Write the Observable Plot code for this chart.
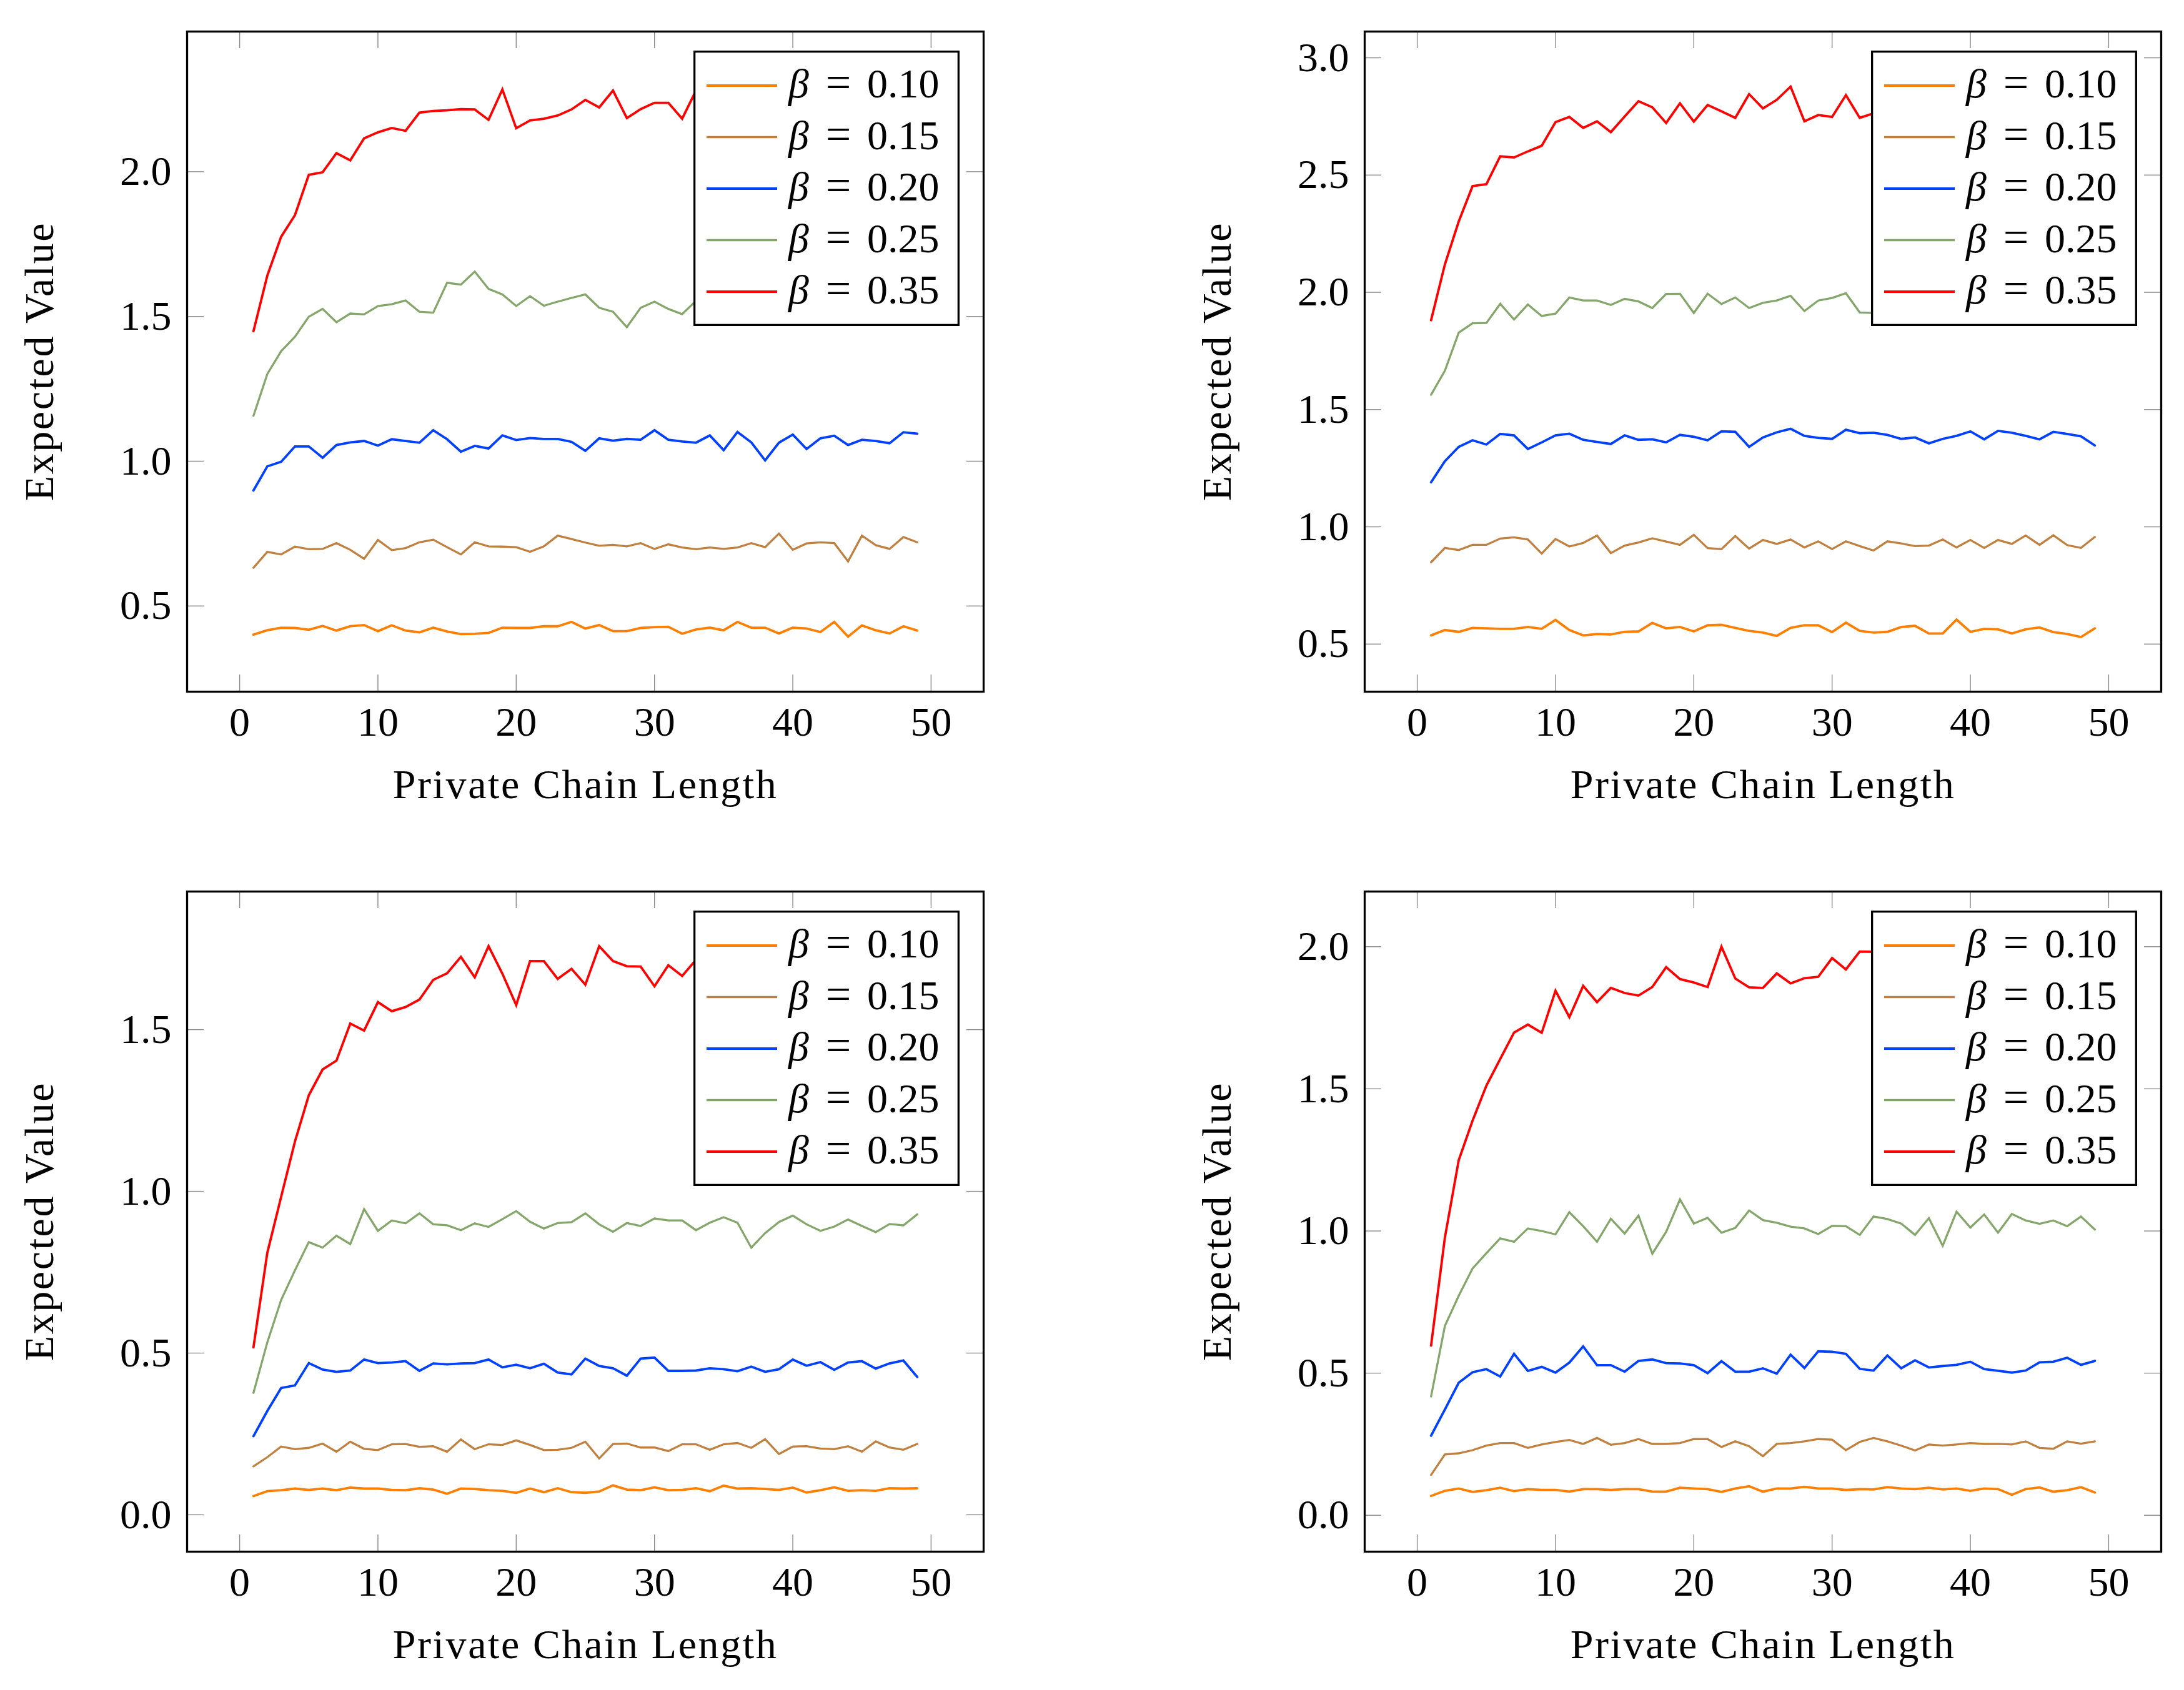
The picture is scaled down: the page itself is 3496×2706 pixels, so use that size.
<!DOCTYPE html>
<html><head><meta charset="utf-8">
<script src="https://cdn.jsdelivr.net/npm/d3@7"></script>
<script src="https://cdn.jsdelivr.net/npm/@observablehq/plot@0.6"></script>
<style>
html,body{margin:0;padding:0;background:#fff;}
#page{position:relative;width:3496px;height:2706px;background:#fff;overflow:hidden;}
#page svg{position:absolute;}
</style></head><body><div id="page"></div>
<script>
// ---------- data ----------
const chainLength = [1,2,3,4,5,6,7,8,9,10,11,12,13,14,15,16,17,18,19,20,21,22,23,24,25,26,27,28,29,30,31,32,33,34,35,36,37,38,39,40,41,42,43,44,45,46,47,48,49];
const betaLabels = ["0.10","0.15","0.20","0.25","0.35"];
const betaColors = ["#ff8000","#bf8040","#0040ff","#84a66a","#ff0000"];
const xTicks = [0,10,20,30,40,50];
const xLabel = "Private Chain Length";
const yLabel = "Expected Value";

// panel 1 (top left)
const p1_b010 = [0.401,0.416,0.425,0.424,0.418,0.431,0.415,0.430,0.434,0.413,0.433,0.415,0.409,0.425,0.412,0.403,0.404,0.407,0.425,0.424,0.424,0.430,0.430,0.445,0.422,0.434,0.413,0.413,0.424,0.427,0.428,0.404,0.419,0.425,0.416,0.445,0.425,0.425,0.405,0.425,0.422,0.410,0.445,0.394,0.433,0.416,0.405,0.430,0.415];
const p1_b015 = [0.632,0.687,0.678,0.705,0.696,0.697,0.717,0.694,0.663,0.728,0.693,0.700,0.720,0.729,0.703,0.678,0.720,0.706,0.705,0.703,0.687,0.706,0.743,0.731,0.719,0.708,0.711,0.706,0.717,0.697,0.713,0.702,0.696,0.702,0.697,0.702,0.717,0.703,0.750,0.694,0.716,0.720,0.717,0.654,0.743,0.710,0.697,0.738,0.720];
const p1_b020 = [0.899,0.982,0.998,1.051,1.051,1.012,1.056,1.065,1.070,1.054,1.076,1.070,1.064,1.107,1.076,1.033,1.053,1.044,1.089,1.073,1.080,1.077,1.077,1.067,1.036,1.079,1.071,1.077,1.074,1.107,1.074,1.068,1.064,1.089,1.038,1.101,1.065,1.003,1.064,1.092,1.042,1.079,1.088,1.056,1.074,1.070,1.062,1.100,1.095];
const p1_b025 = [1.157,1.301,1.380,1.430,1.499,1.526,1.480,1.510,1.507,1.536,1.542,1.555,1.516,1.513,1.616,1.610,1.655,1.595,1.576,1.536,1.570,1.537,1.551,1.564,1.576,1.530,1.516,1.463,1.530,1.551,1.526,1.508,1.554,1.57,1.53,1.56,1.54,1.52,1.57,1.55,1.53,1.56,1.58,1.54,1.55,1.52,1.56,1.54,1.55];
const p1_b035 = [1.449,1.641,1.775,1.850,1.989,1.998,2.064,2.039,2.115,2.136,2.151,2.141,2.204,2.210,2.212,2.216,2.215,2.179,2.284,2.150,2.177,2.183,2.194,2.215,2.248,2.222,2.280,2.185,2.216,2.238,2.238,2.183,2.280,2.25,2.27,2.23,2.26,2.29,2.24,2.27,2.25,2.28,2.26,2.23,2.27,2.29,2.25,2.27,2.26];
const p1_yTicks = [0.5,1.0,1.5,2.0];
const p1_yDomain = [0.204,2.484];

// panel 2 (top right)
const p2_b010 = [0.537,0.560,0.552,0.569,0.567,0.565,0.565,0.573,0.565,0.603,0.560,0.537,0.543,0.541,0.552,0.554,0.590,0.567,0.573,0.554,0.580,0.582,0.569,0.556,0.549,0.535,0.569,0.580,0.580,0.551,0.591,0.556,0.549,0.552,0.573,0.578,0.545,0.545,0.604,0.552,0.565,0.563,0.545,0.563,0.571,0.551,0.543,0.530,0.567];
const p2_b015 = [0.849,0.910,0.901,0.923,0.923,0.950,0.955,0.946,0.886,0.948,0.916,0.931,0.963,0.888,0.920,0.933,0.951,0.937,0.923,0.966,0.909,0.905,0.961,0.907,0.944,0.927,0.946,0.912,0.938,0.905,0.938,0.918,0.899,0.938,0.929,0.918,0.920,0.946,0.912,0.944,0.910,0.944,0.927,0.963,0.923,0.964,0.922,0.910,0.957];
const p2_b020 = [1.190,1.280,1.341,1.369,1.351,1.396,1.390,1.332,1.360,1.390,1.397,1.371,1.362,1.353,1.390,1.371,1.373,1.360,1.392,1.384,1.369,1.407,1.405,1.341,1.381,1.403,1.418,1.388,1.379,1.375,1.414,1.399,1.401,1.392,1.375,1.381,1.356,1.375,1.388,1.407,1.373,1.409,1.401,1.388,1.373,1.405,1.396,1.386,1.347];
const p2_b025 = [1.563,1.666,1.828,1.868,1.869,1.951,1.884,1.948,1.899,1.909,1.978,1.965,1.965,1.946,1.972,1.961,1.933,1.993,1.994,1.912,1.994,1.950,1.978,1.933,1.955,1.965,1.985,1.920,1.965,1.976,1.996,1.914,1.912,1.94,1.97,1.95,1.92,1.98,1.96,1.93,1.97,1.95,1.99,1.94,1.96,1.92,1.97,1.95,1.96];
const p2_b035 = [1.881,2.119,2.302,2.453,2.461,2.580,2.575,2.601,2.625,2.726,2.748,2.701,2.729,2.683,2.750,2.815,2.789,2.722,2.806,2.728,2.799,2.772,2.744,2.845,2.784,2.821,2.877,2.729,2.756,2.748,2.841,2.744,2.763,2.79,2.76,2.82,2.78,2.74,2.81,2.77,2.85,2.79,2.76,2.83,2.80,2.78,2.84,2.77,2.80];
const p2_yTicks = [0.5,1.0,1.5,2.0,2.5,3.0];
const p2_yDomain = [0.297,3.112];

// panel 3 (bottom left)
const p3_b010 = [0.058,0.073,0.076,0.081,0.077,0.081,0.076,0.084,0.081,0.081,0.077,0.076,0.082,0.078,0.065,0.081,0.080,0.076,0.074,0.068,0.081,0.070,0.082,0.070,0.068,0.072,0.091,0.078,0.076,0.085,0.076,0.077,0.082,0.073,0.090,0.081,0.082,0.080,0.077,0.084,0.069,0.076,0.085,0.074,0.076,0.074,0.082,0.081,0.082];
const p3_b015 = [0.150,0.178,0.211,0.203,0.207,0.220,0.195,0.226,0.204,0.200,0.218,0.219,0.210,0.212,0.195,0.233,0.203,0.218,0.216,0.230,0.216,0.200,0.201,0.207,0.226,0.174,0.219,0.220,0.208,0.208,0.197,0.218,0.218,0.201,0.218,0.222,0.207,0.234,0.188,0.211,0.212,0.205,0.203,0.212,0.195,0.227,0.208,0.201,0.219];
const p3_b020 = [0.243,0.321,0.392,0.400,0.469,0.449,0.442,0.446,0.480,0.469,0.471,0.475,0.445,0.468,0.465,0.468,0.469,0.480,0.456,0.464,0.453,0.467,0.440,0.434,0.483,0.460,0.453,0.430,0.483,0.486,0.445,0.445,0.446,0.453,0.450,0.444,0.458,0.442,0.450,0.480,0.461,0.472,0.448,0.471,0.475,0.452,0.468,0.477,0.426];
const p3_b025 = [0.377,0.533,0.664,0.756,0.843,0.826,0.863,0.837,0.945,0.878,0.910,0.901,0.932,0.898,0.895,0.880,0.901,0.890,0.914,0.939,0.906,0.885,0.902,0.905,0.932,0.898,0.875,0.902,0.893,0.916,0.910,0.910,0.880,0.903,0.920,0.903,0.826,0.871,0.905,0.925,0.898,0.878,0.891,0.913,0.893,0.874,0.899,0.895,0.929];
const p3_b035 = [0.518,0.810,0.983,1.154,1.297,1.377,1.404,1.519,1.497,1.585,1.557,1.570,1.593,1.654,1.674,1.725,1.662,1.758,1.673,1.576,1.712,1.712,1.657,1.688,1.639,1.758,1.712,1.696,1.695,1.634,1.699,1.666,1.716,1.73,1.69,1.75,1.71,1.68,1.74,1.70,1.72,1.67,1.74,1.71,1.69,1.73,1.70,1.72,1.71];
const p3_yTicks = [0.0,0.5,1.0,1.5];
const p3_yDomain = [-0.114,1.927];

// panel 4 (bottom right)
const p4_b010 = [0.068,0.086,0.094,0.082,0.088,0.097,0.085,0.092,0.089,0.089,0.083,0.092,0.092,0.089,0.092,0.092,0.083,0.083,0.097,0.094,0.092,0.082,0.094,0.102,0.083,0.094,0.094,0.100,0.094,0.094,0.089,0.092,0.091,0.099,0.094,0.092,0.097,0.091,0.094,0.086,0.094,0.092,0.072,0.092,0.098,0.083,0.088,0.099,0.080];
const p4_b015 = [0.142,0.214,0.218,0.229,0.245,0.254,0.254,0.237,0.249,0.258,0.265,0.251,0.272,0.248,0.254,0.268,0.251,0.251,0.254,0.268,0.268,0.240,0.260,0.243,0.208,0.251,0.254,0.260,0.268,0.266,0.229,0.258,0.272,0.260,0.245,0.228,0.249,0.245,0.249,0.254,0.251,0.251,0.249,0.260,0.237,0.234,0.260,0.252,0.260];
const p4_b020 = [0.280,0.372,0.466,0.503,0.514,0.488,0.568,0.508,0.522,0.502,0.537,0.594,0.528,0.528,0.505,0.543,0.548,0.535,0.534,0.528,0.500,0.542,0.505,0.505,0.517,0.498,0.565,0.518,0.577,0.575,0.568,0.515,0.509,0.562,0.517,0.545,0.520,0.525,0.529,0.540,0.514,0.508,0.502,0.509,0.538,0.540,0.554,0.529,0.543];
const p4_b025 = [0.418,0.666,0.772,0.868,0.922,0.974,0.962,1.009,1.000,0.988,1.066,1.017,0.962,1.043,0.991,1.054,0.920,0.997,1.111,1.026,1.046,0.994,1.011,1.072,1.038,1.029,1.015,1.009,0.989,1.018,1.017,0.986,1.051,1.042,1.026,0.986,1.045,0.948,1.068,1.012,1.058,0.994,1.060,1.037,1.025,1.037,1.017,1.051,1.005];
const p4_b035 = [0.597,0.977,1.249,1.388,1.511,1.605,1.698,1.726,1.697,1.845,1.752,1.862,1.805,1.855,1.837,1.828,1.858,1.928,1.886,1.874,1.858,2.000,1.888,1.857,1.855,1.906,1.871,1.889,1.894,1.960,1.920,1.983,1.982,1.95,1.97,1.93,1.98,1.96,1.94,1.99,1.95,1.97,1.93,1.98,1.96,1.94,1.97,1.95,1.98];
const p4_yTicks = [0.0,0.5,1.0,1.5,2.0];
const p4_yDomain = [-0.128,2.194];

// ---------- drawing ----------
const FONT = "'Liberation Serif', 'Times New Roman', serif";
const FS = 66;
const lineWidths = [3.8, 3.3, 3.8, 3.3, 3.8];
const W = 1594, H = 1307, mL = 299, mT = 50, mR = 20, mB = 200;
const fw = W - mL - mR, fh = H - mT - mB;
const TICK = 27;

function panel(series, yDomain, yTicks, left, top) {
  const data = [];
  series.forEach((vals, i) => vals.forEach((v, j) => data.push({x: chainLength[j], y: v, beta: betaLabels[i]})));
  const tickStyle = {stroke: "#8a8a8a", strokeWidth: 1.4};
  const svg = Plot.plot({
    width: W, height: H,
    marginLeft: mL, marginTop: mT, marginRight: mR, marginBottom: mB,
    style: {fontFamily: FONT, fontSize: FS + "px", background: "white", overflow: "visible"},
    x: {domain: [-3.8, 53.8], axis: null},
    y: {domain: yDomain, axis: null},
    color: {domain: betaLabels, range: betaColors},
    marks: [
      Plot.tickX(xTicks, {x: d => d, ...tickStyle, insetTop: fh - TICK}),
      Plot.tickX(xTicks, {x: d => d, ...tickStyle, insetBottom: fh - TICK}),
      Plot.tickY(yTicks, {y: d => d, ...tickStyle, insetRight: fw - TICK}),
      Plot.tickY(yTicks, {y: d => d, ...tickStyle, insetLeft: fw - TICK}),
      ...betaLabels.map((b, i) => Plot.line(data.filter(d => d.beta === b),
        {x: "x", y: "y", stroke: "beta", strokeWidth: lineWidths[i], strokeLinejoin: "miter", strokeMiterlimit: 10})),
      Plot.text(xTicks, {x: d => d, text: d => String(d), frameAnchor: "bottom", dy: 70, lineAnchor: "bottom", fontSize: FS, fill: "black"}),
      Plot.text(yTicks, {y: d => d, text: d => d.toFixed(1), frameAnchor: "left", dx: -25, textAnchor: "end", lineAnchor: "middle", fontSize: FS, fill: "black"}),
      Plot.text([xLabel], {text: d => d, frameAnchor: "bottom", dy: 170, lineAnchor: "bottom", fontSize: FS, fill: "black"}),
      Plot.frame({stroke: "black", strokeWidth: 3.3})
    ]
  });
  svg.style.left = left + "px";
  svg.style.top = top + "px";
  const sel = d3.select(svg);
  sel.selectAll("text").filter(function() { return this.textContent === xLabel; }).attr("letter-spacing", 2.6);

  // y axis title (rotated)
  sel.append("text")
    .attr("transform", `translate(${mL - 214},${mT + fh / 2}) rotate(-90)`)
    .attr("text-anchor", "middle")
    .attr("font-family", FONT).attr("font-size", FS).attr("letter-spacing", 2.6)
    .attr("fill", "black")
    .text(yLabel);

  // legend (inside the frame, top-right)
  const lgW = 426, lgH = 441;
  const lgX = mL + fw - 38 - lgW, lgY = mT + 31;
  const g = sel.append("g").attr("class", "legend");
  g.append("rect")
    .attr("x", lgX + 1.65).attr("y", lgY + 1.65)
    .attr("width", lgW - 3.3).attr("height", lgH - 3.3)
    .attr("fill", "white").attr("stroke", "black").attr("stroke-width", 3.3);
  betaLabels.forEach((b, i) => {
    const cy = lgY + 56 + i * 82.5;
    g.append("line")
      .attr("x1", lgX + 21).attr("x2", lgX + 134)
      .attr("y1", cy).attr("y2", cy)
      .attr("stroke", betaColors[i]).attr("stroke-width", lineWidths[i]);
    g.append("text").attr("x", lgX + 152).attr("y", cy + 19).attr("text-anchor", "start")
      .attr("font-family", FONT).attr("font-size", FS).attr("font-style", "italic").attr("fill", "black")
      .text("β");
    g.append("text").attr("x", lgX + 232).attr("y", cy + 19).attr("text-anchor", "middle")
      .attr("font-family", FONT).attr("font-size", 72).attr("fill", "black")
      .text("=");
    g.append("text").attr("x", lgX + 278).attr("y", cy + 19).attr("text-anchor", "start")
      .attr("font-family", FONT).attr("font-size", FS).attr("fill", "black")
      .text(b);
  });
  document.getElementById("page").appendChild(svg);
}

panel([p1_b010, p1_b015, p1_b020, p1_b025, p1_b035], p1_yDomain, p1_yTicks, 0, 0);
panel([p2_b010, p2_b015, p2_b020, p2_b025, p2_b035], p2_yDomain, p2_yTicks, 1884.5, 0);
panel([p3_b010, p3_b015, p3_b020, p3_b025, p3_b035], p3_yDomain, p3_yTicks, 0, 1377);
panel([p4_b010, p4_b015, p4_b020, p4_b025, p4_b035], p4_yDomain, p4_yTicks, 1884.5, 1377);
</script></body></html>
